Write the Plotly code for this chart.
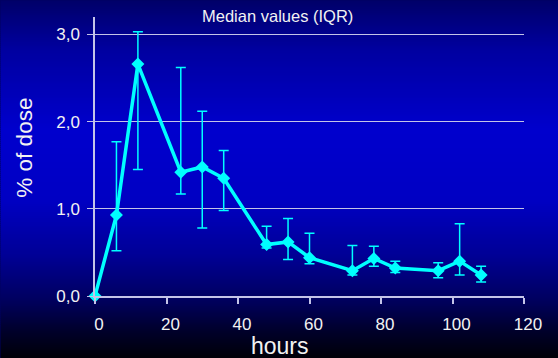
import plotly.graph_objects as go

hours = [0, 6, 12, 24, 30, 36, 48, 54, 60, 72, 78, 84, 96, 102, 108]
median = [0.0, 0.93, 2.66, 1.42, 1.48, 1.35, 0.59, 0.62, 0.44, 0.29, 0.43, 0.32, 0.29, 0.40, 0.24]
q3 = [0.0, 1.77, 3.03, 2.62, 2.12, 1.67, 0.80, 0.89, 0.72, 0.58, 0.57, 0.40, 0.38, 0.83, 0.34]
q1 = [0.0, 0.52, 1.45, 1.17, 0.78, 0.98, 0.55, 0.42, 0.37, 0.24, 0.34, 0.27, 0.21, 0.24, 0.16]

x_ticks = [0, 20, 40, 60, 80, 100, 120]
y_ticks = [0, 1, 2, 3]
y_ticktext = ["0,0", "1,0", "2,0", "3,0"]

W, H = 558, 358
L, R, T, B = 94.5, 34, 16.6, 61.7
PW, PH = W - L - R, H - T - B

def px_to_paper(px, py):
    return (px - L) / PW, (H - B - py) / PH

# vertical background gradient (pixel y -> blue level)
stops = [(0, 105), (50, 160), (130, 205), (200, 195), (255, 150), (300, 95), (330, 45), (358, 8)]

def blue_at(y):
    for (y0, b0), (y1, b1) in zip(stops, stops[1:]):
        if y0 <= y <= y1:
            return b0 + (b1 - b0) * (y - y0) / (y1 - y0)
    return stops[-1][1]

shapes = []
step = 2
for y in range(0, H, step):
    b = int(round(blue_at(y + step / 2)))
    x0, y0 = px_to_paper(0, y + step + 1)
    x1, y1 = px_to_paper(W, y)
    shapes.append(dict(type="rect", xref="paper", yref="paper", x0=x0, x1=x1, y0=y0, y1=y1,
                       fillcolor=f"rgb(0,0,{b})", line=dict(width=0), layer="below"))

err_plus = [a - m for a, m in zip(q3, median)]
err_minus = [m - b for m, b in zip(median, q1)]

cyan = "#00ffff"
axcol = "#c4c4e8"
txtcol = "#f2f2f2"
font = "Liberation Sans, Arial, sans-serif"

fig = go.Figure()
fig.add_trace(go.Scatter(
    x=hours, y=median, mode="lines+markers",
    line=dict(color=cyan, width=3.5),
    marker=dict(symbol="diamond", size=10, color=cyan),
    error_y=dict(type="data", array=err_plus, arrayminus=err_minus, color=cyan,
                 thickness=1.5, width=5),
    cliponaxis=False, showlegend=False,
))

def ann(text, px, py, size, angle=0):
    x, y = px_to_paper(px, py)
    return dict(text=text, x=x, y=y, xref="paper", yref="paper", showarrow=False,
                xanchor="center", yanchor="middle", textangle=angle,
                font=dict(family=font, size=size, color=txtcol))

fig.update_layout(
    width=W, height=H,
    margin=dict(l=L, r=R, t=T, b=B, pad=0),
    paper_bgcolor="#000060", plot_bgcolor="rgba(0,0,0,0)",
    shapes=shapes,
    font=dict(family=font, size=17, color=txtcol),
    annotations=[
        ann("Median values (IQR)", 277.5, 16, 16.5),
        ann("hours", 280, 346, 23),
        ann("% of dose", 23, 148, 22.5, -90),
    ],
    xaxis=dict(range=[0, 120], tickvals=x_ticks, ticktext=[str(v) for v in x_ticks],
               showgrid=False, zeroline=False, showline=True, linecolor=axcol, linewidth=1.5,
               ticks="outside", ticklen=6, tickcolor=axcol, tickwidth=1.5,
               ticklabelshift=4, ticklabelstandoff=6,
               tickfont=dict(family=font, size=17, color=txtcol)),
    yaxis=dict(range=[0, 3.2], tickvals=y_ticks, ticktext=y_ticktext,
               showgrid=True, gridcolor=axcol, gridwidth=1.2, zeroline=False,
               showline=True, linecolor=axcol, linewidth=1.5,
               ticks="outside", ticklen=6, tickcolor=axcol, tickwidth=1.2,
               ticklabelstandoff=4,
               tickfont=dict(family=font, size=17, color=txtcol)),
)

fig.write_html("out.html")
